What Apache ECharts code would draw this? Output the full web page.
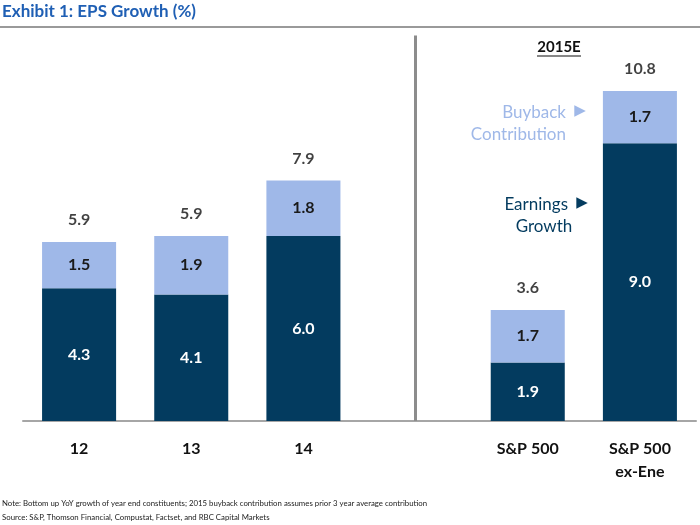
<!DOCTYPE html>
<html><head><meta charset="utf-8">
<script src="https://cdn.jsdelivr.net/npm/echarts@6/dist/echarts.min.js"></script>
<style>html,body{margin:0;padding:0;background:#fff}#c{width:700px;height:525px}</style>
</head><body><div id="c"></div>
<script>
var categories = ['12', '13', '14', '', 'S&P 500', 'S&P 500\nex-Ene'];
var earningsGrowth = [4.3, 4.1, 6.0, null, 1.9, 9.0];
var buybackContribution = [1.5, 1.9, 1.8, null, 1.7, 1.7];
var totals = [5.9, 5.9, 7.9, null, 3.6, 10.8];

var FONT = 'Lato';
var DARK = '#033b5f';
var LIGHT = '#9fb8e8';

var chart = echarts.init(document.getElementById('c'), null, {renderer: 'canvas'});
var totalPts = categories.map(function (c, i) {
  return earningsGrowth[i] == null ? null : [i, earningsGrowth[i] + buybackContribution[i]];
});
chart.setOption({
  animation: false,
  backgroundColor: '#fff',
  textStyle: {fontFamily: FONT},
  grid: {left: 23, right: 4, top: 35.4, bottom: 104},
  xAxis: {
    type: 'category', data: categories,
    axisLine: {lineStyle: {color: '#a6a6a6', width: 2}},
    axisTick: {show: false},
    axisLabel: {color: '#111', fontSize: 16, fontFamily: FONT, fontWeight: 'bold', margin: 16, lineHeight: 23, interval: 0}
  },
  yAxis: {type: 'value', min: 0, max: 12.5, show: false, splitLine: {show: false}},
  series: [
    {
      name: 'Earnings Growth', type: 'bar', stack: 'eps', barWidth: '66%',
      data: earningsGrowth,
      itemStyle: {color: DARK},
      label: {show: true, position: 'inside', color: '#fff', fontSize: 16, fontWeight: 'bold', fontFamily: FONT,
        formatter: function (p) { return p.value.toFixed(1); }},
      markLine: {
        silent: true, symbol: 'none',
        lineStyle: {color: '#8c8c8c', width: 3, type: 'solid'},
        label: {show: false},
        data: [{xAxis: 3}]
      }
    },
    {
      name: 'Buyback Contribution', type: 'bar', stack: 'eps', barWidth: '66%',
      data: buybackContribution,
      itemStyle: {color: LIGHT},
      label: {show: true, position: 'inside', color: '#1a1a1a', fontSize: 16, fontWeight: 'bold', fontFamily: FONT,
        formatter: function (p) { return p.value.toFixed(1); }}
    },
    {
      name: 'Total', type: 'scatter', symbolSize: 0,
      data: totalPts,
      label: {show: true, position: 'top', distance: 14, color: '#111', fontSize: 16, fontFamily: FONT, fontWeight: 'bold',
        formatter: function (p) { return totals[p.dataIndex].toFixed(1); }}
    }
  ],
  graphic: [
    {type: 'text', left: 2, top: 3, style: {text: 'Exhibit 1: EPS Growth (%)', fill: '#1f5fb4', font: 'bold 17px ' + FONT}},
    {type: 'line', shape: {x1: 0, y1: 27, x2: 700, y2: 27}, style: {stroke: '#9a9a9a', lineWidth: 2}},
    {type: 'text', x: 559, y: 47, style: {text: '2015E', fill: '#111', font: 'bold 15px ' + FONT, textAlign: 'center', textVerticalAlign: 'middle'}},
    {type: 'line', shape: {x1: 537, y1: 56, x2: 581, y2: 56}, style: {stroke: '#111', lineWidth: 1.2}},
    {type: 'text', x: 566, y: 113, style: {text: 'Buyback', fill: LIGHT, font: '17px ' + FONT, textAlign: 'right', textVerticalAlign: 'middle'}},
    {type: 'text', x: 580, y: 111, style: {text: '\u25B6', fill: LIGHT, font: '15px DejaVu Sans', textAlign: 'center', textVerticalAlign: 'middle'}},
    {type: 'text', x: 566, y: 135, style: {text: 'Contribution', fill: LIGHT, font: '17px ' + FONT, textAlign: 'right', textVerticalAlign: 'middle'}},
    {type: 'text', x: 568, y: 205, style: {text: 'Earnings', fill: DARK, font: '17px ' + FONT, textAlign: 'right', textVerticalAlign: 'middle'}},
    {type: 'text', x: 582, y: 203, style: {text: '\u25B6', fill: DARK, font: '15px DejaVu Sans', textAlign: 'center', textVerticalAlign: 'middle'}},
    {type: 'text', x: 544, y: 227, style: {text: 'Growth', fill: DARK, font: '17px ' + FONT, textAlign: 'center', textVerticalAlign: 'middle'}},
    {type: 'text', left: 2, top: 499, style: {text: 'Note: Bottom up YoY growth of year end constituents; 2015 buyback contribution assumes prior 3 year average contribution', fill: '#222', font: '7.8px ' + FONT}},
    {type: 'text', left: 2, top: 513, style: {text: 'Source: S&P, Thomson Financial, Compustat, Factset, and RBC Capital Markets', fill: '#222', font: '7.8px ' + FONT}}
  ]
});
</script>
</body></html>
